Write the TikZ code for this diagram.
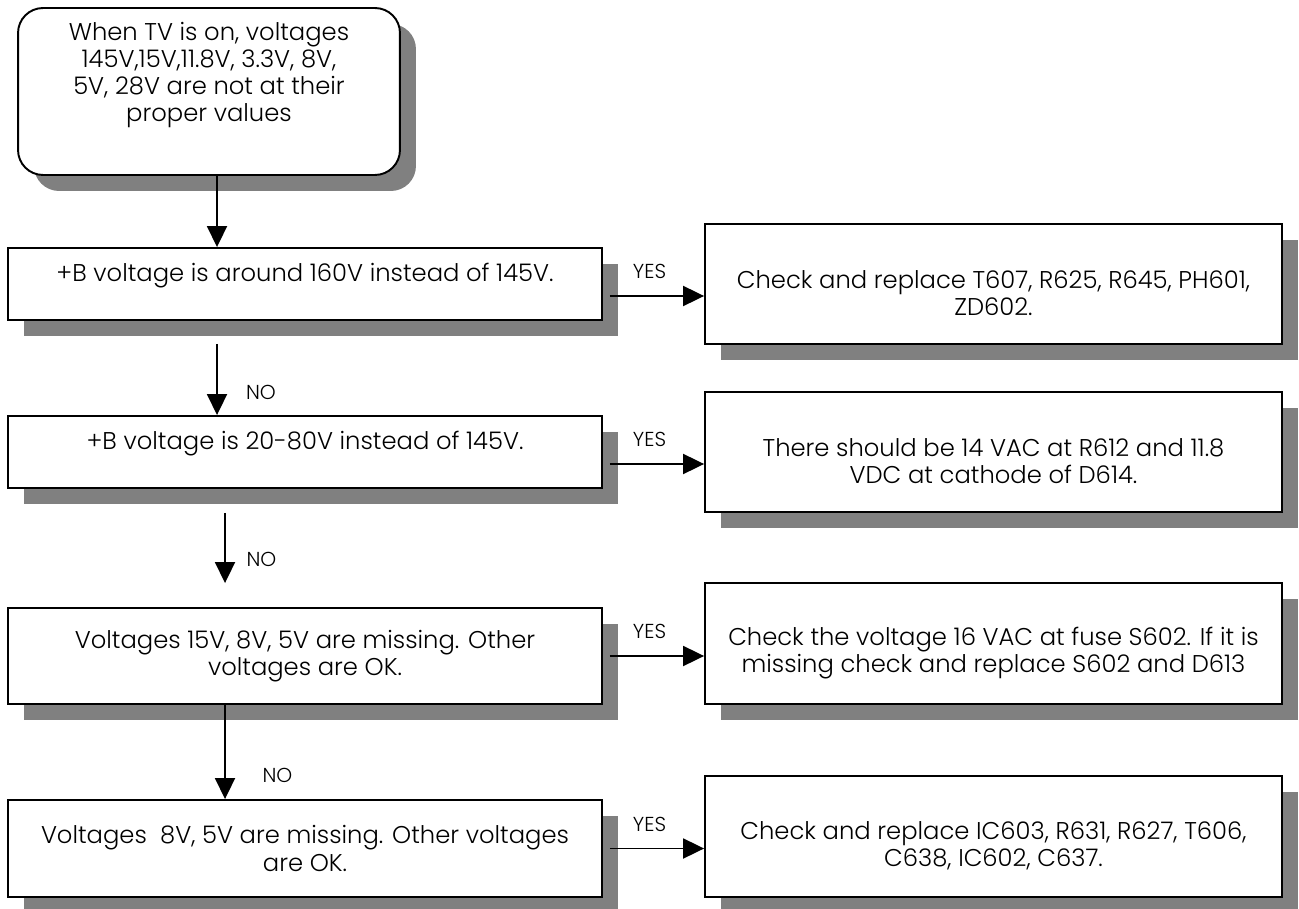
\documentclass[tikz,border=0pt]{standalone}
\usepackage{fontspec}
\setmainfont{Poppins Light}
\usepackage{tikz}
\usetikzlibrary{arrows.meta}
\usetikzlibrary{shadows}
\usetikzlibrary{positioning}
\tikzset{>={Triangle[length=0.42cm,width=0.4cm]}}
\tikzstyle{boxshadow} = [drop shadow={shadow xshift=0.32cm, shadow yshift=-0.32cm, fill=gray, opacity=1}]
\tikzstyle{startbox} = [rectangle, rounded corners=0.5cm, draw=black, line width=1.1pt, fill=white, align=center, boxshadow, font=\fontsize{13.8}{15.4}\selectfont]
\tikzstyle{testbox} = [rectangle, draw=black, line width=1.1pt, fill=white, align=center, boxshadow, minimum width=11.88cm, font=\fontsize{13.8}{15.4}\selectfont]
\tikzstyle{fixbox} = [testbox, minimum width=11.54cm, minimum height=2.4cm]
\tikzstyle{flow} = [->, line width=1.1pt]
\tikzstyle{answer} = [font=\fontsize{11.5}{13}\selectfont, inner sep=1pt]

\begin{document}
\begin{tikzpicture}[x=0.02cm, y=-0.02cm]
\useasboundingbox (0,0) rectangle (1299,909);
% left column
\node [startbox, minimum width=7.64cm, minimum height=3.34cm] (T) at (209, 91.5) {When TV is on, voltages\\145V,15V,11.8V, 3.3V, 8V,\\5V, 28V are not at their\\proper values\rule[-0.78cm]{0pt}{0.78cm}};
\node [testbox, minimum height=1.44cm] (B1) at (305, 284) {+B voltage is around 160V instead of 145V.\rule[-0.48cm]{0pt}{0.48cm}};
\node [testbox, minimum height=1.44cm] (B2) at (305, 452) {+B voltage is 20-80V instead of 145V.\rule[-0.48cm]{0pt}{0.48cm}};
\node [testbox, minimum height=1.92cm] (B3) at (305, 656) {Voltages 15V, 8V, 5V are missing. Other\\voltages are OK.};
\node [testbox, minimum height=1.94cm] (B4) at (305, 848.5) {Voltages~ 8V, 5V are missing. Other voltages\\are OK.};
% right column
\node [fixbox] (R1) at (993.5, 284) {\rule{0pt}{0.74cm}Check and replace T607, R625, R645, PH601,\\ZD602.};
\node [fixbox] (R2) at (993.5, 452) {\rule{0pt}{0.74cm}There should be 14 VAC at R612 and 11.8\\VDC at cathode of D614.};
\node [fixbox, minimum height=2.42cm] (R3) at (993.5, 643.5) {\rule{0pt}{0.74cm}Check the voltage 16 VAC at fuse S602. If it is\\missing check and replace S602 and D613};
\node [fixbox, minimum height=2.42cm] (R4) at (993.5, 836.5) {\rule{0pt}{0.74cm}Check and replace IC603, R631, R627, T606,\\C638, IC602, C637.};
% NO branches
\draw [flow] ([xshift=0.16cm]T.south) -- ([xshift=-1.76cm]B1.north);
\draw [flow, shorten <=0.46cm] ([xshift=-1.76cm]B1.south) -- node [pos=0.76, xshift=0.88cm, answer] (no1) {NO} ([xshift=-1.76cm]B2.north);
\draw [flow, shorten <=0.48cm, shorten >=0.48cm] ([xshift=-1.6cm]B2.south) -- node [pos=0.6, xshift=0.73cm, answer] (no2) {NO} ([xshift=-1.6cm]B3.north);
\draw [flow] ([xshift=-1.6cm]B3.south) -- node [pos=0.745, xshift=1.05cm, answer] (no3) {NO} ([xshift=-1.6cm]B4.north);
% YES branches
\draw [flow, shorten <=0.14cm] ([yshift=-0.24cm]B1.east) -- node [xshift=-0.08cm, yshift=0.49cm, answer] (yes1) {YES} ([yshift=-0.24cm]B1.east -| R1.west);
\draw [flow, shorten <=0.14cm] ([yshift=-0.24cm]B2.east) -- node [xshift=-0.08cm, yshift=0.49cm, answer] (yes2) {YES} ([yshift=-0.24cm]B2.east -| R2.west);
\draw [flow, shorten <=0.14cm] (B3.east) -- node [xshift=-0.08cm, yshift=0.49cm, answer] (yes3) {YES} (B3.east -| R3.west);
\draw [flow, shorten <=0.14cm] (B4.east) -- node [xshift=-0.08cm, yshift=0.49cm, answer] (yes4) {YES} (B4.east -| R4.west);
\end{tikzpicture}
\end{document}
